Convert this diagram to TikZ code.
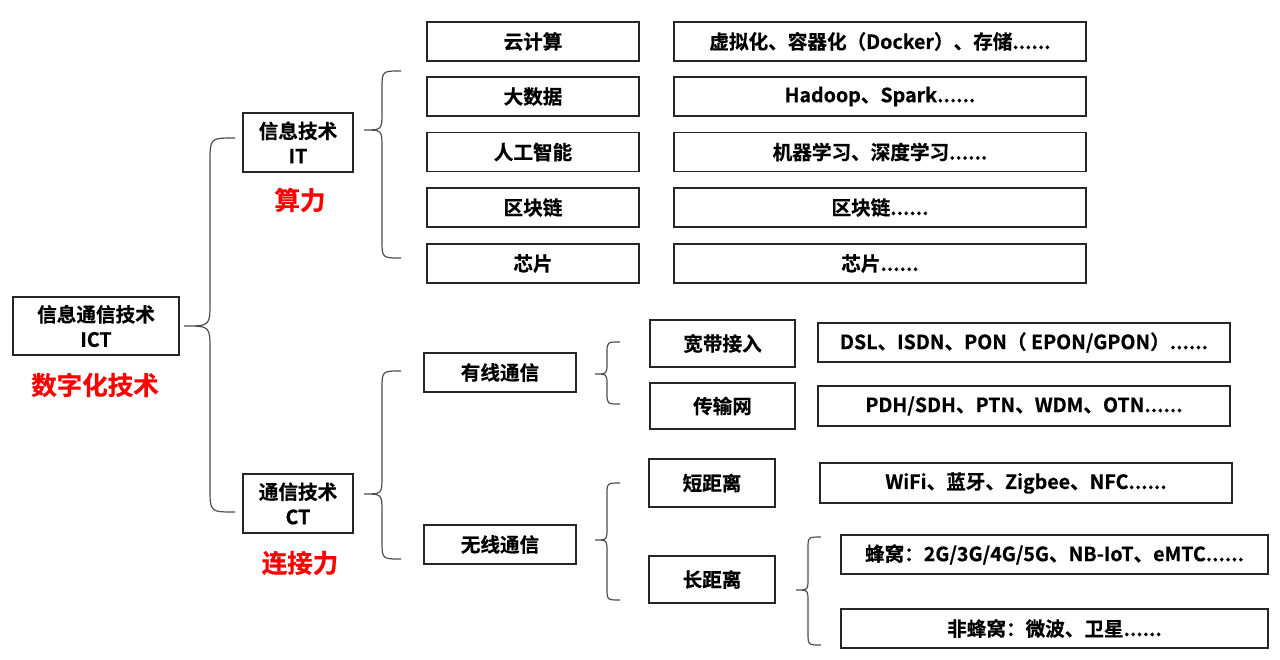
\documentclass[tikz,border=0pt]{standalone}
\usepackage{fontspec}
\setmainfont{Noto Sans CJK SC}[BoldFont={Noto Sans CJK SC Bold}, BoldFeatures={FakeBold=0.5}]
\definecolor{boxline}{HTML}{262626}
\definecolor{braceline}{HTML}{4D4D4D}
\definecolor{redlabel}{HTML}{FF0000}
\newcommand\mybrace[8]{% name, xe, xv, xt, yt, ym, yb, r
  \coordinate (#1-top) at (#2,#5);
  \coordinate (#1-tip) at (#4,#6);
  \coordinate (#1-bot) at (#2,#7);
  \draw[bracestyle] (#1-top) .. controls (#3,#5) .. (#3,#5+#8) -- (#3,#6-#8)
    .. controls (#3,#6) .. (#1-tip) .. controls (#3,#6) .. (#3,#6+#8)
    -- (#3,#7-#8) .. controls (#3,#7) .. (#1-bot);
}
\begin{document}
\begin{tikzpicture}[x=1pt,y=-1pt,
  box/.style={draw=boxline, line width=1.5pt, inner sep=0pt, align=center,
    font=\fontsize{19.6}{25}\selectfont\bfseries, text=black},
  lbox/.style={box, minimum width=212pt, minimum height=39pt},
  rbox/.style={box, minimum width=412pt, minimum height=39pt},
  redtext/.style={font=\fontsize{25.5}{28}\selectfont\bfseries, text=redlabel, inner sep=0pt},
  bracestyle/.style={draw=braceline, line width=1.2pt}]
\useasboundingbox[fill=white] (0,0) rectangle (1280,659);

% level 0
\node[box, minimum width=166pt, minimum height=58pt] (ict) at (96,326) {信息通信技术\\ICT};
\node[redtext] (ictl) at (95,385) {数字化技术};

% level 1
\node[box, minimum width=110pt, minimum height=59pt] (it) at (298,142.5) {信息技术\\IT};
\node[redtext] (itl) at (300,200) {算力};
\node[box, minimum width=110pt, minimum height=59pt] (ct) at (298,503.5) {通信技术\\CT};
\node[redtext] (ctl) at (300,563) {连接力};

% IT children
\node[lbox] (cloud) at (533,41.5) {云计算};
\node[rbox] (cloud-d) at (880,41.5) {虚拟化、容器化（Docker）、存储......};
\node[lbox] (big) at (533,96.5) {大数据};
\node[rbox] (big-d) at (880,96.5) {Hadoop、Spark......};
\node[lbox] (ai) at (533,152) {人工智能};
\node[rbox] (ai-d) at (880,152) {机器学习、深度学习......};
\node[lbox] (bc) at (533,207.5) {区块链};
\node[rbox] (bc-d) at (880,207.5) {区块链......};
\node[lbox] (chip) at (533,263.5) {芯片};
\node[rbox] (chip-d) at (880,263.5) {芯片......};

% CT children
\node[box, minimum width=152pt, minimum height=39pt] (wired) at (500,372.5) {有线通信};
\node[box, minimum width=152pt, minimum height=39pt] (wless) at (500,544.5) {无线通信};

\node[box, minimum width=145pt, minimum height=47pt] (bb) at (722.5,343.5) {宽带接入};
\node[box, minimum width=145pt, minimum height=46pt] (tn) at (722.5,406) {传输网};
\node[rbox] (bb-d) at (1024,342.5) {DSL、ISDN、PON（ EPON/GPON）......};
\node[rbox, minimum height=40pt] (tn-d) at (1024,406) {PDH/SDH、PTN、WDM、OTN......};

\node[box, minimum width=126pt, minimum height=48pt] (sr) at (712,483) {短距离};
\node[box, minimum width=126pt, minimum height=47pt] (lr) at (712,579.5) {长距离};
\node[rbox, minimum height=40pt] (sr-d) at (1026,483) {WiFi、蓝牙、Zigbee、NFC......};
\node[box, minimum width=427pt, minimum height=39pt] (cell) at (1054.5,554.5) {蜂窝：2G/3G/4G/5G、NB-IoT、eMTC......};
\node[box, minimum width=427pt, minimum height=39pt] (ncell) at (1054.5,628.5) {非蜂窝：微波、卫星......};

% braces
\mybrace{b0}{235}{210}{184}{138}{326}{512}{24}
\mybrace{b1}{401}{382}{364}{71}{130}{258}{18}
\mybrace{b2}{401}{382}{364}{371}{494}{559}{18}
\mybrace{b3}{620}{607}{595}{342}{374}{404}{11}
\mybrace{b4}{620}{607}{595}{483}{540}{600}{12}
\mybrace{b5}{821}{808}{796}{537}{590}{645}{12}
\end{tikzpicture}
\end{document}
